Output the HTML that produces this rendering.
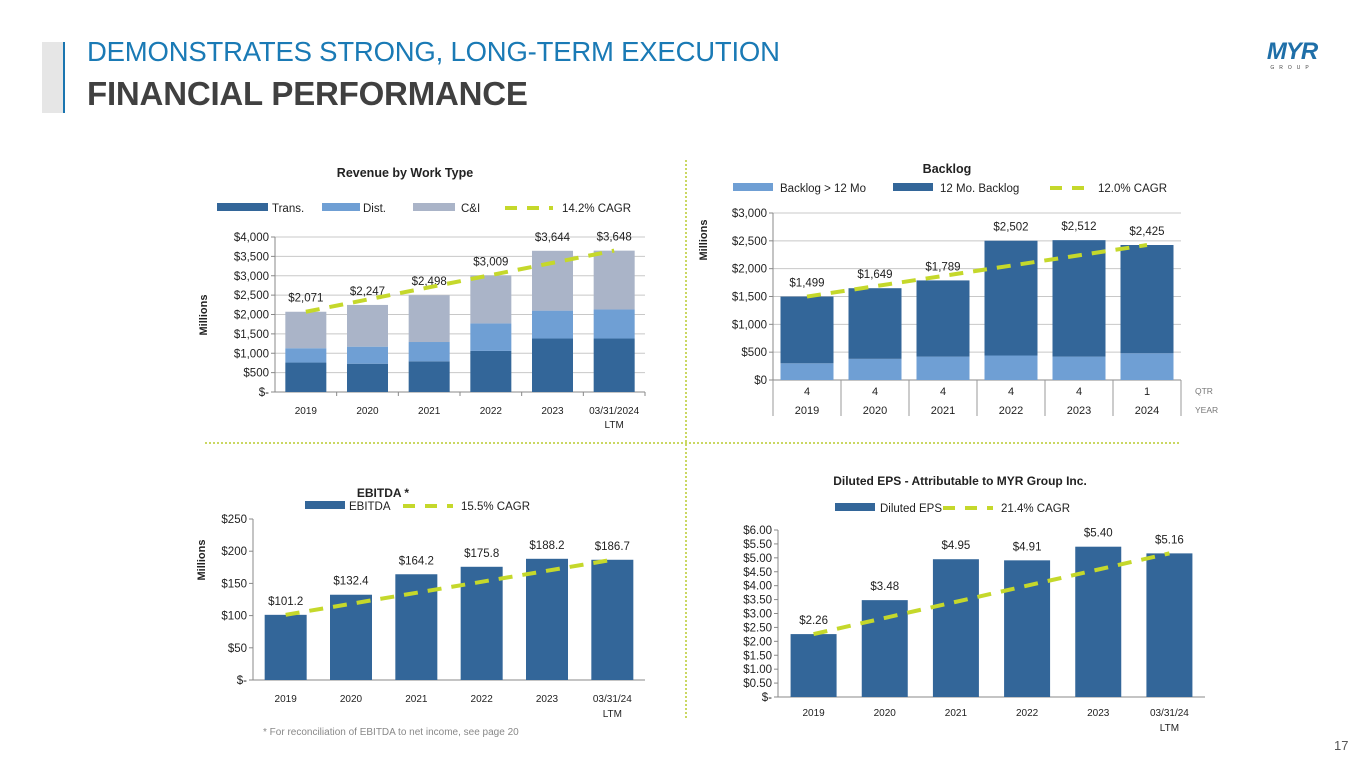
<!DOCTYPE html>
<html><head><meta charset="utf-8">
<style>
body{margin:0;width:1365px;height:768px;background:#fff;overflow:hidden;font-family:"Liberation Sans",sans-serif;position:relative}
.abs{position:absolute}
</style></head>
<body>
<div class="abs" style="left:42px;top:42px;width:21px;height:71px;background:#e6e6e6"></div>
<div class="abs" style="left:63px;top:42px;width:2px;height:71px;background:#1a75b0"></div>
<div class="abs" style="left:87px;top:36px;font-size:27.5px;color:#1a7ab5;letter-spacing:-0.2px">DEMONSTRATES STRONG, LONG-TERM EXECUTION</div>
<div class="abs" style="left:87px;top:75px;font-size:33px;font-weight:bold;color:#404040;letter-spacing:-0.2px">FINANCIAL PERFORMANCE</div>
<div class="abs" style="left:1262px;top:40px;width:60px;text-align:center">
<div style="font-size:24px;font-weight:900;color:#1f6fa8;font-style:italic;line-height:24px;letter-spacing:-1px">MYR</div>
<div style="font-size:5px;color:#444;letter-spacing:5px;margin-top:1px">GROUP</div></div>
<div class="abs" style="left:263px;top:727px;font-size:10px;color:#888">* For reconciliation of EBITDA to net income, see page 20</div>
<div class="abs" style="left:1334px;top:738px;font-size:13px;color:#555">17</div>
<svg id="s" class="abs" style="left:0;top:0" width="1365" height="768"></svg>
<script>
// Revenue data
const revCats=["2019","2020","2021","2022","2023","03/31/2024"];
const revTrans=[760,730,790,1060,1380,1380];
const revDist=[370,440,500,710,720,750];
const revTotal=[2071,2247,2498,3009,3644,3648];
const revLabels=["$2,071","$2,247","$2,498","$3,009","$3,644","$3,648"];
const revTicks=[0,500,1000,1500,2000,2500,3000,3500,4000];
// Backlog data
const blQtr=["4","4","4","4","4","1"];
const blYear=["2019","2020","2021","2022","2023","2024"];
const blLong=[300,380,420,440,420,480];
const blTotal=[1499,1649,1789,2502,2512,2425];
const blLabels=["$1,499","$1,649","$1,789","$2,502","$2,512","$2,425"];
const blTicks=[0,500,1000,1500,2000,2500,3000];
// EBITDA data
const ebCats=["2019","2020","2021","2022","2023","03/31/24"];
const ebVals=[101.2,132.4,164.2,175.8,188.2,186.7];
const ebTicks=[0,50,100,150,200,250];
// EPS data
const epsCats=["2019","2020","2021","2022","2023","03/31/24"];
const epsVals=[2.26,3.48,4.95,4.91,5.40,5.16];
const epsTicks=[0,0.5,1,1.5,2,2.5,3,3.5,4,4.5,5,5.5,6];

const NS="http://www.w3.org/2000/svg";
const svg=document.getElementById('s');
const DARK="#336699",LIGHT="#6f9fd4",GREY="#aab4c8",CAGR="#c5d82b";
function mk(tag,a,txt){const e=document.createElementNS(NS,tag);for(const k in a)e.setAttribute(k,a[k]);if(txt!=null)e.textContent=txt;svg.appendChild(e);return e;}
function T(x,y,s,opt){opt=opt||{};return mk('text',{x:x,y:y,'font-size':opt.fs||11,'text-anchor':opt.a||'middle','font-weight':opt.b?'bold':'normal',fill:opt.c||'#222','font-family':'"Liberation Sans",sans-serif',transform:opt.t||''},s);}

let e;
e=mk('line',{x1:686,y1:160,x2:686,y2:718,stroke:'#b8cc2e','stroke-width':1.5,'stroke-dasharray':'2,2'});


e=mk('line',{x1:205,y1:443,x2:1180,y2:443,stroke:'#b8cc2e','stroke-width':1.5,'stroke-dasharray':'2,2'});



function legendBox(x,w,tx,y,col,label,name){
  let r=mk('rect',{x:x,y:y-5,width:w,height:8,fill:col});
  
  
  let t=T(tx,y+4,label,{a:'start',fs:11.5});
  
  
}
function legendLine(x,w,tx,y,label,name){
  let l=mk('line',{x1:x,y1:y,x2:x+w,y2:y,stroke:CAGR,'stroke-width':4,'stroke-dasharray':'12,10'});
  
  
  let t=T(tx,y+4,label,{a:'start',fs:11.5});
  
  
}
function yAxis(x0,x1,y0,y1,max,ticks,fmt,grid,name){
  const ys=v=>y0-(v/max)*(y0-y1);
  ticks.forEach(v=>{
    if(grid&&v>0){let g=mk('line',{x1:x0,y1:ys(v),x2:x1,y2:ys(v),stroke:'#c8c8c8','stroke-width':1});
      
      }
    let tk=mk('line',{x1:x0-4,y1:ys(v),x2:x0,y2:ys(v),stroke:'#888'});
    
    
    let t=T(x0-6,ys(v)+4,fmt(v),{a:'end',fs:11.5});
    
    
  });
  let ax=mk('line',{x1:x0,y1:y0,x2:x0,y2:y1,stroke:'#888'});
  
  
  let bx=mk('line',{x1:x0,y1:y0,x2:x1,y2:y0,stroke:'#888'});
  
  
  return ys;
}
function cagr(pts,name){
  let p=mk('polyline',{points:pts.map(q=>q.join(',')).join(' '),fill:'none',stroke:CAGR,'stroke-width':4,'stroke-dasharray':'14,10'});
  
  
}
function ytitle(x,y,name){
  let t=T(x,y,'Millions',{b:true,fs:11,t:`rotate(-90 ${x} ${y})`});
  
  
}
const dollar=v=>v===0?'$-':'$'+v.toLocaleString('en-US');

// ===== Revenue chart =====
(function(){
  const x0=275,x1=645,y0=392,y1=237,max=4000,n=revCats.length,step=(x1-x0)/n,bw=41;
  let t=T(405,177,'Revenue by Work Type',{b:true,fs:12.5});
  
  
  legendBox(217,51,272,208,DARK,'Trans.','legend-trans');
  legendBox(322,38,363,208,LIGHT,'Dist.','legend-dist');
  legendBox(413,42,461,208,GREY,'C&I','legend-ci');
  legendLine(505,48,562,208,'14.2% CAGR','legend-revenue-cagr');
  ytitle(207,315,'revenue');
  const ys=yAxis(x0,x1,y0,y1,max,revTicks,dollar,true,'revenue');
  const pts=[];
  revCats.forEach((c,i)=>{
    const cx=x0+step*(i+0.5);
    const segs=[[revTrans[i],DARK,'trans'],[revDist[i],LIGHT,'dist'],[revTotal[i]-revTrans[i]-revDist[i],GREY,'ci']];
    let acc=0;
    segs.forEach(s=>{
      let r=mk('rect',{x:cx-bw/2,y:ys(acc+s[0]),width:bw,height:ys(acc)-ys(acc+s[0]),fill:s[1]});
      
      
      acc+=s[0];
    });
    let l=T(cx,ys(revTotal[i])-10,revLabels[i],{fs:11.5});
    
    
    let xl=T(cx,y0+22,c,{fs:10});
    
    
    if(i===n-1){let lt=T(cx,y0+36,'LTM',{fs:10});
      
      }
    let tk=mk('line',{x1:x0+step*(i+1),y1:y0,x2:x0+step*(i+1),y2:y0+4,stroke:'#888'});
    
    
    pts.push([cx,ys(revTotal[i])]);
  });
  cagr([pts[0],pts[n-1]],'revenue');
})();

// ===== Backlog chart =====
(function(){
  const x0=773,x1=1181,y0=380,y1=213,max=3000,n=blYear.length,step=(x1-x0)/n,bw=53;
  let t=T(947,173,'Backlog',{b:true,fs:12.5});
  
  
  legendBox(733,40,780,188,LIGHT,'Backlog > 12 Mo','legend-backlog-long');
  legendBox(893,40,940,188,DARK,'12 Mo. Backlog','legend-backlog-12mo');
  legendLine(1050,40,1098,188,'12.0% CAGR','legend-backlog-cagr');
  ytitle(707,240,'backlog');
  const ys=yAxis(x0,x1,y0,y1,max,blTicks,v=>'$'+v.toLocaleString('en-US'),true,'backlog');
  const pts=[];
  blYear.forEach((c,i)=>{
    const cx=x0+step*(i+0.5);
    let r1=mk('rect',{x:cx-bw/2,y:ys(blLong[i]),width:bw,height:y0-ys(blLong[i]),fill:LIGHT});
    
    
    let r2=mk('rect',{x:cx-bw/2,y:ys(blTotal[i]),width:bw,height:ys(blLong[i])-ys(blTotal[i]),fill:DARK});
    
    
    let l=T(cx,ys(blTotal[i])-10,blLabels[i],{fs:11.5});
    
    
    let q=T(cx,395,blQtr[i],{fs:11});
    
    
    let yl=T(cx,414,c,{fs:11});
    
    
    let d=mk('line',{x1:x0+step*(i+1),y1:y0,x2:x0+step*(i+1),y2:416,stroke:'#999'});
    
    
    pts.push([cx,ys(blTotal[i])]);
  });
  let d0=mk('line',{x1:x0,y1:y0,x2:x0,y2:416,stroke:'#999'});
  
  
  let qt=T(1195,394,'QTR',{a:'start',fs:8.5,c:'#777'});
  
  
  let yt=T(1195,413,'YEAR',{a:'start',fs:8.5,c:'#777'});
  
  
  cagr([pts[0],pts[n-1]],'backlog');
})();

// ===== EBITDA chart =====
(function(){
  const x0=253,x1=645,y0=680,y1=519,max=250,n=ebCats.length,step=(x1-x0)/n,bw=42;
  let t=T(383,497,'EBITDA *',{b:true,fs:12});
  
  
  legendBox(305,40,349,506,DARK,'EBITDA','legend-ebitda');
  legendLine(403,50,461,506,'15.5% CAGR','legend-ebitda-cagr');
  ytitle(205,560,'ebitda');
  const ys=yAxis(x0,x1,y0,y1,max,ebTicks,v=>v===0?'$-':'$'+v,false,'ebitda');
  const pts=[];
  ebCats.forEach((c,i)=>{
    const cx=x0+step*(i+0.5);
    let r=mk('rect',{x:cx-bw/2,y:ys(ebVals[i]),width:bw,height:y0-ys(ebVals[i]),fill:DARK});
    
    
    let l=T(cx,ys(ebVals[i])-10,'$'+ebVals[i].toFixed(1),{fs:11.5});
    
    
    let xl=T(cx,y0+22,c,{fs:10});
    
    
    if(i===n-1){let lt=T(cx,y0+37,'LTM',{fs:10});
      
      }
    pts.push([cx,ys(ebVals[i])]);
  });
  cagr([pts[0],pts[n-1]],'ebitda');
})();

// ===== EPS chart =====
(function(){
  const x0=778,x1=1205,y0=697,y1=530,max=6,n=epsCats.length,step=(x1-x0)/n,bw=46;
  let t=T(960,485,'Diluted EPS - Attributable to MYR Group Inc.',{b:true,fs:12});
  
  
  legendBox(835,40,880,508,DARK,'Diluted EPS','legend-eps');
  legendLine(943,50,1001,508,'21.4% CAGR','legend-eps-cagr');
  const ys=yAxis(x0,x1,y0,y1,max,epsTicks,v=>v===0?'$-':'$'+v.toFixed(2),false,'eps');
  const pts=[];
  epsCats.forEach((c,i)=>{
    const cx=x0+step*(i+0.5);
    let r=mk('rect',{x:cx-bw/2,y:ys(epsVals[i]),width:bw,height:y0-ys(epsVals[i]),fill:DARK});
    
    
    let l=T(cx,ys(epsVals[i])-10,'$'+epsVals[i].toFixed(2),{fs:11.5});
    
    
    let xl=T(cx,y0+19,c,{fs:10});
    
    
    if(i===n-1){let lt=T(cx,y0+34,'LTM',{fs:10});
      
      }
    pts.push([cx,ys(epsVals[i])]);
  });
  cagr([pts[0],pts[n-1]],'eps');
})();
</script>
</body></html>
